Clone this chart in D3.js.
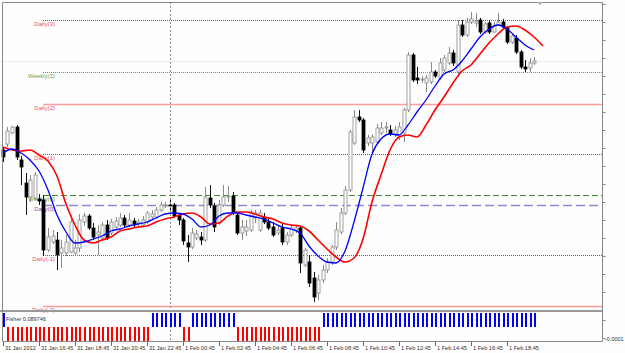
<!DOCTYPE html>
<html>
<head>
<meta charset="utf-8">
<script src="https://cdn.jsdelivr.net/npm/d3@7"></script>
<style>
  html, body { margin: 0; padding: 0; background: #fff; }
  svg { display: block; font-family: "Liberation Sans", Arial, sans-serif; }
</style>
</head>
<body>
<div id="chart"></div>
<script>
// M15 candles, 31 Jan 2012 14:45 .. 1 Feb 20:15
const open = [
  1.3250,1.3256,1.3267,1.3273,1.3240,1.3217,1.3203,1.3202,1.3201,1.3200,
  1.3150,1.3158,1.3160,1.3147,1.3147,1.3148,1.3147,1.3152,1.3178,1.3184,
  1.3172,1.3165,1.3162,1.3175,1.3167,1.3173,1.3175,1.3182,1.3175,1.3179,
  1.3176,1.3175,1.3178,1.3183,1.3183,1.3190,1.3194,1.3195,1.3195,1.3185,
  1.3180,1.3157,1.3153,1.3162,1.3163,1.3160,1.3202,1.3194,1.3177,1.3195,
  1.3203,1.3204,1.3185,1.3167,1.3169,1.3170,1.3182,1.3170,1.3183,1.3178,
  1.3173,1.3167,1.3172,1.3158,1.3165,1.3170,1.3172,1.3135,1.3138,1.3122,
  1.3107,1.3120,1.3130,1.3138,1.3153,1.3168,1.3187,1.3210,1.3257,1.3283,
  1.3280,1.3257,1.3257,1.3258,1.3267,1.3272,1.3270,1.3266,1.3263,1.3267,
  1.3290,1.3345,1.3322,1.3320,1.3317,1.3318,1.3328,1.3322,1.3330,1.3337,
  1.3347,1.3328,1.3375,1.3365,1.3378,1.3377,1.3380,1.3368,1.3377,1.3368,
  1.3375,1.3378,1.3372,1.3358,1.3362,1.3348,1.3333,1.3332,1.3337
];
const high = [
  1.3253,1.3273,1.3274,1.3275,1.3244,1.3227,1.3225,1.3228,1.3206,1.3205,
  1.3172,1.3170,1.3168,1.3160,1.3165,1.3185,1.3160,1.3186,1.3187,1.3186,
  1.3177,1.3175,1.3178,1.3180,1.3181,1.3183,1.3187,1.3185,1.3187,1.3182,
  1.3181,1.3184,1.3189,1.3190,1.3193,1.3198,1.3198,1.3202,1.3197,1.3187,
  1.3182,1.3165,1.3172,1.3170,1.3168,1.3213,1.3215,1.3197,1.3200,1.3215,
  1.3214,1.3208,1.3188,1.3180,1.3180,1.3190,1.3190,1.3190,1.3187,1.3182,
  1.3178,1.3175,1.3176,1.3168,1.3175,1.3174,1.3174,1.3152,1.3145,1.3128,
  1.3125,1.3135,1.3142,1.3155,1.3178,1.3192,1.3214,1.3270,1.3290,1.3290,
  1.3282,1.3265,1.3266,1.3276,1.3278,1.3278,1.3275,1.3274,1.3278,1.3292,
  1.3348,1.3347,1.3333,1.3324,1.3325,1.3338,1.3330,1.3342,1.3345,1.3353,
  1.3350,1.3380,1.3380,1.3382,1.3388,1.3387,1.3382,1.3378,1.3380,1.3378,
  1.3387,1.3381,1.3374,1.3366,1.3365,1.3350,1.3340,1.3342,1.3343
];
const low = [
  1.3238,1.3253,1.3266,1.3240,1.3215,1.3185,1.3198,1.3200,1.3195,1.3144,
  1.3148,1.3156,1.3130,1.3132,1.3144,1.3147,1.3144,1.3148,1.3174,1.3170,
  1.3160,1.3145,1.3160,1.3160,1.3165,1.3171,1.3173,1.3173,1.3173,1.3172,
  1.3173,1.3173,1.3176,1.3180,1.3181,1.3188,1.3192,1.3188,1.3182,1.3175,
  1.3155,1.3138,1.3151,1.3160,1.3155,1.3158,1.3192,1.3168,1.3175,1.3193,
  1.3198,1.3185,1.3165,1.3160,1.3164,1.3168,1.3177,1.3168,1.3176,1.3170,
  1.3163,1.3165,1.3155,1.3155,1.3163,1.3167,1.3127,1.3133,1.3113,1.3098,
  1.3100,1.3117,1.3127,1.3135,1.3150,1.3166,1.3185,1.3208,1.3255,1.3278,
  1.3247,1.3254,1.3248,1.3256,1.3265,1.3267,1.3264,1.3263,1.3260,1.3258,
  1.3288,1.3318,1.3316,1.3317,1.3308,1.3316,1.3322,1.3320,1.3328,1.3335,
  1.3334,1.3323,1.3363,1.3363,1.3376,1.3373,1.3366,1.3366,1.3366,1.3367,
  1.3374,1.3371,1.3356,1.3356,1.3346,1.3331,1.3328,1.3328,1.3335
];
const close = [
  1.3243,1.3269,1.3273,1.3243,1.3233,1.3203,1.3220,1.3225,1.3199,1.3150,
  1.3163,1.3164,1.3145,1.3152,1.3158,1.3178,1.3152,1.3180,1.3184,1.3172,
  1.3163,1.3168,1.3175,1.3162,1.3178,1.3179,1.3182,1.3175,1.3180,1.3175,
  1.3178,1.3180,1.3187,1.3186,1.3190,1.3195,1.3195,1.3194,1.3184,1.3180,
  1.3159,1.3153,1.3167,1.3166,1.3160,1.3203,1.3195,1.3173,1.3195,1.3203,
  1.3204,1.3188,1.3167,1.3173,1.3173,1.3188,1.3187,1.3187,1.3178,1.3172,
  1.3165,1.3170,1.3158,1.3165,1.3172,1.3172,1.3137,1.3150,1.3117,1.3103,
  1.3120,1.3130,1.3138,1.3153,1.3170,1.3187,1.3210,1.3268,1.3283,1.3280,
  1.3250,1.3262,1.3263,1.3272,1.3272,1.3273,1.3266,1.3270,1.3273,1.3290,
  1.3345,1.3320,1.3320,1.3321,1.3322,1.3328,1.3324,1.3337,1.3342,1.3347,
  1.3337,1.3375,1.3365,1.3378,1.3381,1.3379,1.3368,1.3376,1.3368,1.3375,
  1.3378,1.3373,1.3358,1.3364,1.3348,1.3333,1.3331,1.3337,1.3339
];

// moving averages read at every second bar (0, 2, 4, ...)
const fastMA = [
  1.3247,1.3251,1.3247,1.3240,1.3229,1.3210,1.3185,1.3168,1.3157,1.3158,
  1.3161,1.3164,1.3169,1.3171,1.3174,1.3176,1.3178,1.3182,1.3186,1.3187,
  1.3186,1.3181,1.3173,1.3175,1.3184,1.3187,1.3187,1.3185,1.3183,1.3181,
  1.3177,1.3173,1.3171,1.3167,1.3154,1.3144,1.3138,1.3137,1.3149,1.3178,
  1.3212,1.3246,1.3261,1.3266,1.3265,1.3275,1.3288,1.3300,1.3314,1.3326,
  1.3330,1.3339,1.3351,1.3363,1.3371,1.3375,1.3371,1.3363,1.3355,1.3350
];
const slowMA = [
  1.3253,1.3250,1.3249,1.3250,1.3245,1.3239,1.3224,1.3196,1.3175,1.3160,
  1.3157,1.3160,1.3163,1.3169,1.3171,1.3173,1.3174,1.3178,1.3181,1.3183,
  1.3186,1.3187,1.3183,1.3176,1.3177,1.3184,1.3188,1.3188,1.3186,1.3183,
  1.3181,1.3177,1.3175,1.3174,1.3169,1.3160,1.3151,1.3143,1.3138,1.3142,
  1.3161,1.3198,1.3225,1.3250,1.3263,1.3265,1.3263,1.3275,1.3290,1.3303,
  1.3317,1.3329,1.3335,1.3346,1.3357,1.3366,1.3373,1.3374,1.3370,1.3363,
  1.3354
];

// Fisher histogram: +1 up (blue), -1 down (red)
const fisher = [
  1,
  -1,-1,-1,-1,-1,-1,-1,-1,-1,-1,-1,-1,-1,-1,-1,-1,
  -1,-1,-1,-1,-1,-1,-1,-1,-1,-1,-1,-1,-1,-1,-1,-1,
  1,1,1,1,1,1,1,
  -1,-1,
  1,1,1,1,1,1,1,1,1,1,
  -1,-1,-1,-1,-1,-1,-1,-1,-1,-1,-1,-1,-1,-1,-1,-1,-1,-1,-1,
  1,1,1,1,1,1,1,1,1,1,1,1,1,1,1,1,1,1,1,1,1,1,1,1,
  1,1,1,1,1,1,1,1,1,1,1,1,1,1,1,1,1,1,1,1,1,1,1,1
];

const levelNames = ["Daily(3)", "Weekly(1)", "Daily(2)", "Daily(1)", "Weekly(0)", "Daily(0)", "Daily(-1)", "Daily(-2)"];
const levelPrices = [1.3380, 1.3328, 1.3296, 1.3246, 1.3205, 1.3195, 1.3145, 1.3094];
const bidPrice = 1.3339;

const timeTickBars = [0, 8, 16, 24, 32, 40, 48, 56, 64, 72, 80, 88, 96, 104, 112];
const timeTickLabels = ["31 Jan 2012", "31 Jan 16:45", "31 Jan 18:45", "31 Jan 20:45", "31 Jan 22:45",
  "1 Feb 00:45", "1 Feb 02:45", "1 Feb 04:45", "1 Feb 06:45", "1 Feb 08:45", "1 Feb 10:45",
  "1 Feb 12:45", "1 Feb 14:45", "1 Feb 16:45", "1 Feb 18:45"];
const daySeparatorBar = 37;
const fisherLabel = "Fisher 0.089746";
const fisherAxisLabel = "-0.0001";

// line styles for the pivot levels
const levelStyle = {
  "Daily(3)":  {stroke: "#ff2020", dash: "1,1", width: 1, text: "#e8506a"},
  "Weekly(1)": {stroke: "#5a9a5a", dash: "1,1", width: 1, text: "#7a9a4a"},
  "Daily(2)":  {stroke: "#ff9c9c", dash: null,  width: 1.5, text: "#e8506a"},
  "Daily(1)":  {stroke: "#ff2020", dash: "1,1", width: 1, text: "#e8506a"},
  "Weekly(0)": {stroke: "#3c8c3c", dash: "6,3", width: 1, text: "#6a9a3a"},
  "Daily(0)":  {stroke: "#8a8ad0", dash: "9,4", width: 1.5, text: "#9040a0"},
  "Daily(-1)": {stroke: "#ff2020", dash: "1,1", width: 1, text: "#e8506a"},
  "Daily(-2)": {stroke: "#ff9c9c", dash: null,  width: 1.5, text: "#e8506a"}
};

const W = 625, H = 353;
const plotLeft = 2, plotRight = 602, plotTop = 2, mainBottom = 310, indTop = 312, indBottom = 341;

const svg = d3.select("#chart").append("svg")
  .attr("width", W)
  .attr("height", H);

svg.append("rect").attr("width", W).attr("height", H).attr("fill", "#fdfefd");

let x = d3.scaleLinear().domain([0, 133]).range([3, 601.5]);
let y = d3.scaleLinear().domain([1.3090, 1.3400]).range([mainBottom, 0]);
let yInd = d3.scaleLinear().domain([-1, 1]).range([indBottom, indTop + 1]);

let plot = svg.append("g");

// bid line
plot.append("line")
  .attr("x1", 0).attr("x2", plotRight)
  .attr("y1", Math.round(y(bidPrice)) + 0.5).attr("y2", Math.round(y(bidPrice)) + 0.5)
  .attr("stroke", "#d8d8d8")
  .attr("stroke-dasharray", "1,1");

// pivot levels
levelNames.forEach(function(name, k) {
  let st = levelStyle[name];
  let yy = Math.round(y(levelPrices[k])) + 0.5;
  plot.append("text")
    .attr("x", 55).attr("y", yy + 5.5)
    .attr("text-anchor", "end")
    .attr("font-size", 6)
    .attr("fill", st.text)
    .text(name);
  plot.append("line")
    .attr("x1", 43).attr("x2", plotRight)
    .attr("y1", yy).attr("y2", yy)
    .attr("stroke", st.stroke)
    .attr("stroke-width", st.width)
    .attr("stroke-dasharray", st.dash);
});

// day separator
svg.append("line")
  .attr("x1", Math.round(x(daySeparatorBar)) + 0.5).attr("x2", Math.round(x(daySeparatorBar)) + 0.5)
  .attr("y1", plotTop).attr("y2", indBottom)
  .attr("stroke", "#8c8c8c")
  .attr("stroke-dasharray", "2,2");

// candles
let bars = d3.range(open.length);
let candles = plot.selectAll("g.candle")
  .data(bars)
  .enter().append("g")
  .attr("class", "candle");

candles.append("line")
  .attr("x1", d => Math.round(x(d)) + 0.5)
  .attr("x2", d => Math.round(x(d)) + 0.5)
  .attr("y1", d => y(high[d]))
  .attr("y2", d => y(low[d]))
  .attr("stroke", d => close[d] >= open[d] ? "#8a8a8a" : "#111");

candles.append("rect")
  .attr("x", d => Math.round(x(d)) - 1)
  .attr("y", d => y(Math.max(open[d], close[d])))
  .attr("width", 3)
  .attr("height", d => Math.max(1, Math.abs(y(open[d]) - y(close[d]))))
  .attr("fill", d => close[d] >= open[d] ? "#fff" : "#000")
  .attr("stroke", d => close[d] >= open[d] ? "#8a8a8a" : "#000")
  .attr("stroke-width", 0.8);

// moving averages
let maLine = d3.line()
  .x((d, i) => x(i * 2))
  .y(d => y(d))
  .curve(d3.curveMonotoneX);

plot.append("path")
  .datum(slowMA)
  .attr("d", maLine)
  .attr("fill", "none")
  .attr("stroke", "#ff0000")
  .attr("stroke-width", 1.6);

plot.append("path")
  .datum(fastMA)
  .attr("d", maLine)
  .attr("fill", "none")
  .attr("stroke", "#0000ff")
  .attr("stroke-width", 1.3);

// indicator window
svg.append("line")
  .attr("x1", 0).attr("x2", plotRight)
  .attr("y1", 311).attr("y2", 311)
  .attr("stroke", "#9a9a9a")
  .attr("stroke-width", 2);

svg.selectAll("rect.fisher")
  .data(bars)
  .enter().append("rect")
  .attr("class", "fisher")
  .attr("x", d => Math.round(x(d)))
  .attr("width", 2)
  .attr("y", d => fisher[d] > 0 ? yInd(fisher[d]) : yInd(0))
  .attr("height", d => Math.abs(yInd(fisher[d]) - yInd(0)))
  .attr("fill", d => fisher[d] > 0 ? "#0000ff" : "#ff0000");

svg.append("text")
  .attr("x", 6).attr("y", 321)
  .attr("font-size", 5.5)
  .attr("fill", "#333")
  .text(fisherLabel);

// frame and right axis
svg.append("path")
  .attr("d", `M${plotRight + 0.5},${indBottom + 0.5} H${plotLeft + 0.5} V${plotTop + 0.5} H${plotRight + 0.5} Z`)
  .attr("fill", "none")
  .attr("stroke", "#888");

let priceTicks = d3.range(1.3396, 1.3090, -0.0018);
let yAxis = d3.axisRight(y)
  .tickValues(priceTicks)
  .tickSize(3)
  .tickFormat("");
svg.append("g")
  .attr("transform", `translate(${plotRight + 0.5},0)`)
  .call(yAxis)
  .call(g => g.select(".domain").remove())
  .selectAll("line").attr("stroke", "#888");

svg.append("g")
  .attr("transform", `translate(${plotRight + 0.5},0)`)
  .selectAll("line")
  .data(d3.range(indTop + 8, indBottom, 18))
  .enter().append("line")
  .attr("x1", 0).attr("x2", 3)
  .attr("y1", d => d + 0.5).attr("y2", d => d + 0.5)
  .attr("stroke", "#888");

svg.append("text")
  .attr("x", 605).attr("y", 341)
  .attr("font-size", 5.5)
  .attr("fill", "#333")
  .text(fisherAxisLabel);

// chart shift marker
svg.append("path")
  .attr("d", "M537,2 L543,2 L540,5 Z")
  .attr("fill", "#aaa");

// time axis
let timeAxis = svg.append("g");
timeTickBars.forEach(function(b, k) {
  let xx = Math.round(x(b)) + 0.5;
  timeAxis.append("line")
    .attr("x1", xx).attr("x2", xx)
    .attr("y1", indBottom + 1).attr("y2", indBottom + 5)
    .attr("stroke", "#666");
  timeAxis.append("text")
    .attr("x", xx + 1.5).attr("y", 350)
    .attr("font-size", 5.6)
    .attr("fill", "#333")
    .text(timeTickLabels[k]);
});
</script>
</body>
</html>
